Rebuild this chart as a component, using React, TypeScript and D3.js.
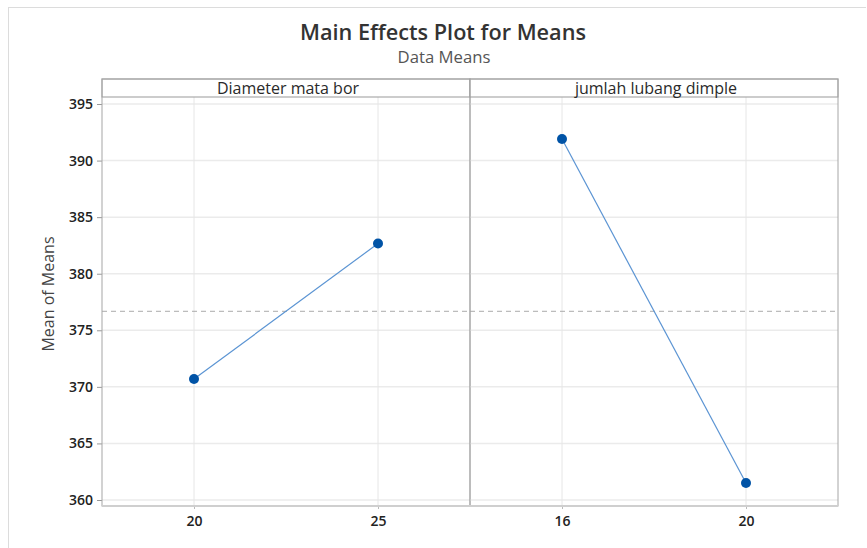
import React, { useEffect, useRef } from 'react';
import * as d3 from 'd3';

const svgWidth = 867;
const svgHeight = 548;
const margin = { left: 102, right: 29, top: 79, bottom: 42 };
const stripHeight = 18;

const width = svgWidth - margin.left - margin.right;
const height = svgHeight - margin.top - margin.bottom;

// data
const factors = ['Diameter mata bor', 'jumlah lubang dimple'];
const levels = [['20', '25'], ['16', '20']];
const means = [[370.69, 382.67], [391.9, 361.5]];
const grandMean = 376.68;
const yTicks = [360, 365, 370, 375, 380, 385, 390, 395];

const font = "'Open Sans', 'Noto Sans', sans-serif";

const translate = (x: number, y: number) => 'translate(' + x + ',' + y + ')';

const App = () => {
  const ref = useRef<SVGSVGElement>(null);

  useEffect(() => {
    const svg = d3.select(ref.current);
    svg.selectAll('*').remove();

    // outer frame lines
    svg.append('line').attr('x1', 8).attr('x2', 866).attr('y1', 7.5).attr('y2', 7.5)
      .attr('stroke', '#dcdcdc');
    svg.append('line').attr('x1', 8.5).attr('x2', 8.5).attr('y1', 7).attr('y2', svgHeight)
      .attr('stroke', '#dcdcdc');

    svg.append('text').attr('x', 443).attr('y', 40).attr('text-anchor', 'middle')
      .attr('font-family', font).attr('font-size', 21).attr('font-weight', 600).attr('fill', '#333')
      .attr('textLength', 286).attr('lengthAdjust', 'spacingAndGlyphs')
      .text('Main Effects Plot for Means');
    svg.append('text').attr('x', 444).attr('y', 63).attr('text-anchor', 'middle')
      .attr('font-family', font).attr('font-size', 15.5).attr('fill', '#555')
      .attr('textLength', 93).attr('lengthAdjust', 'spacingAndGlyphs')
      .text('Data Means');

    const chart = svg.append('g').attr('transform', translate(margin.left, margin.top));
    const panelW = width / factors.length;
    const plotTop = stripHeight;
    const plotH = height - stripHeight;

    const yScale = d3.scaleLinear().domain([359.47, 395.62]).range([plotH + plotTop, plotTop]);

    // y label
    svg.append('text')
      .attr('transform', translate(54, 294) + ' rotate(-90)')
      .attr('text-anchor', 'middle').attr('font-family', font).attr('font-size', 16)
      .attr('fill', '#444').text('Mean of Means');

    // y axis
    const yAxis = chart.append('g')
      .call(d3.axisLeft(yScale).tickValues(yTicks).tickSize(5).tickPadding(4));
    yAxis.select('.domain').remove();
    yAxis.selectAll('line').attr('stroke', '#999');
    yAxis.selectAll('text').attr('font-family', font).attr('font-size', 14)
      .attr('font-weight', 600).attr('fill', '#222');

    factors.forEach((f, i) => {
      const g = chart.append('g').attr('transform', translate(i * panelW, 0));
      const xScale = d3.scalePoint().domain(levels[i]).range([0, panelW]).padding(0.5);

      // grid
      g.selectAll('.hgrid').data(yTicks).enter().append('line')
        .attr('x1', 0).attr('x2', panelW)
        .attr('y1', d => yScale(d)).attr('y2', d => yScale(d))
        .attr('stroke', '#ebebeb').attr('stroke-width', 1.5);
      g.selectAll('.vgrid').data(levels[i]).enter().append('line')
        .attr('x1', d => xScale(d) as number).attr('x2', d => xScale(d) as number)
        .attr('y1', plotTop).attr('y2', plotTop + plotH)
        .attr('stroke', '#e6e6e6');

      // grand mean reference
      g.append('line').attr('x1', 0).attr('x2', panelW)
        .attr('y1', yScale(grandMean)).attr('y2', yScale(grandMean))
        .attr('stroke', '#aaa').attr('stroke-dasharray', '5,4');

      // x axis
      const xAxis = g.append('g').attr('transform', translate(0, plotTop + plotH))
        .call(d3.axisBottom(xScale).tickSize(3).tickPadding(7));
      xAxis.select('.domain').remove();
      xAxis.selectAll('line').attr('stroke', '#bbb');
      xAxis.selectAll('text').attr('font-family', font).attr('font-size', 14)
        .attr('font-weight', 600).attr('fill', '#222');

      // line + points
      const pts = levels[i].map((l, j) => [xScale(l) as number, yScale(means[i][j])] as [number, number]);
      g.append('path').attr('d', d3.line()(pts)).attr('fill', 'none')
        .attr('stroke', '#5b94d3').attr('stroke-width', 1.2);
      g.selectAll('.pt').data(pts).enter().append('circle')
        .attr('cx', d => d[0]).attr('cy', d => d[1]).attr('r', 5).attr('fill', '#0053a6');

      // strip
      g.append('rect').attr('x', 0).attr('y', 0).attr('width', panelW).attr('height', stripHeight)
        .attr('fill', 'white').attr('stroke', '#999');
      g.append('text').attr('x', panelW / 2 + 2).attr('y', 15).attr('text-anchor', 'middle')
        .attr('font-family', font).attr('font-size', 16).attr('font-weight', 500)
        .attr('fill', '#2a2a2a').text(f);

      // panel frame
      g.append('rect').attr('x', 0).attr('y', 0).attr('width', panelW).attr('height', height)
        .attr('fill', 'none').attr('stroke', '#a6a6a6');
    });

    // bottom edge
    chart.append('line').attr('x1', 0).attr('x2', width).attr('y1', height).attr('y2', height)
      .attr('stroke', '#cfcfcf').attr('stroke-width', 2);
  }, []);

  return (
    <svg ref={ref} width={svgWidth} height={svgHeight}
      style={{ position: 'absolute', left: 0, top: 0, background: 'white' }} />
  );
};

export default App;
